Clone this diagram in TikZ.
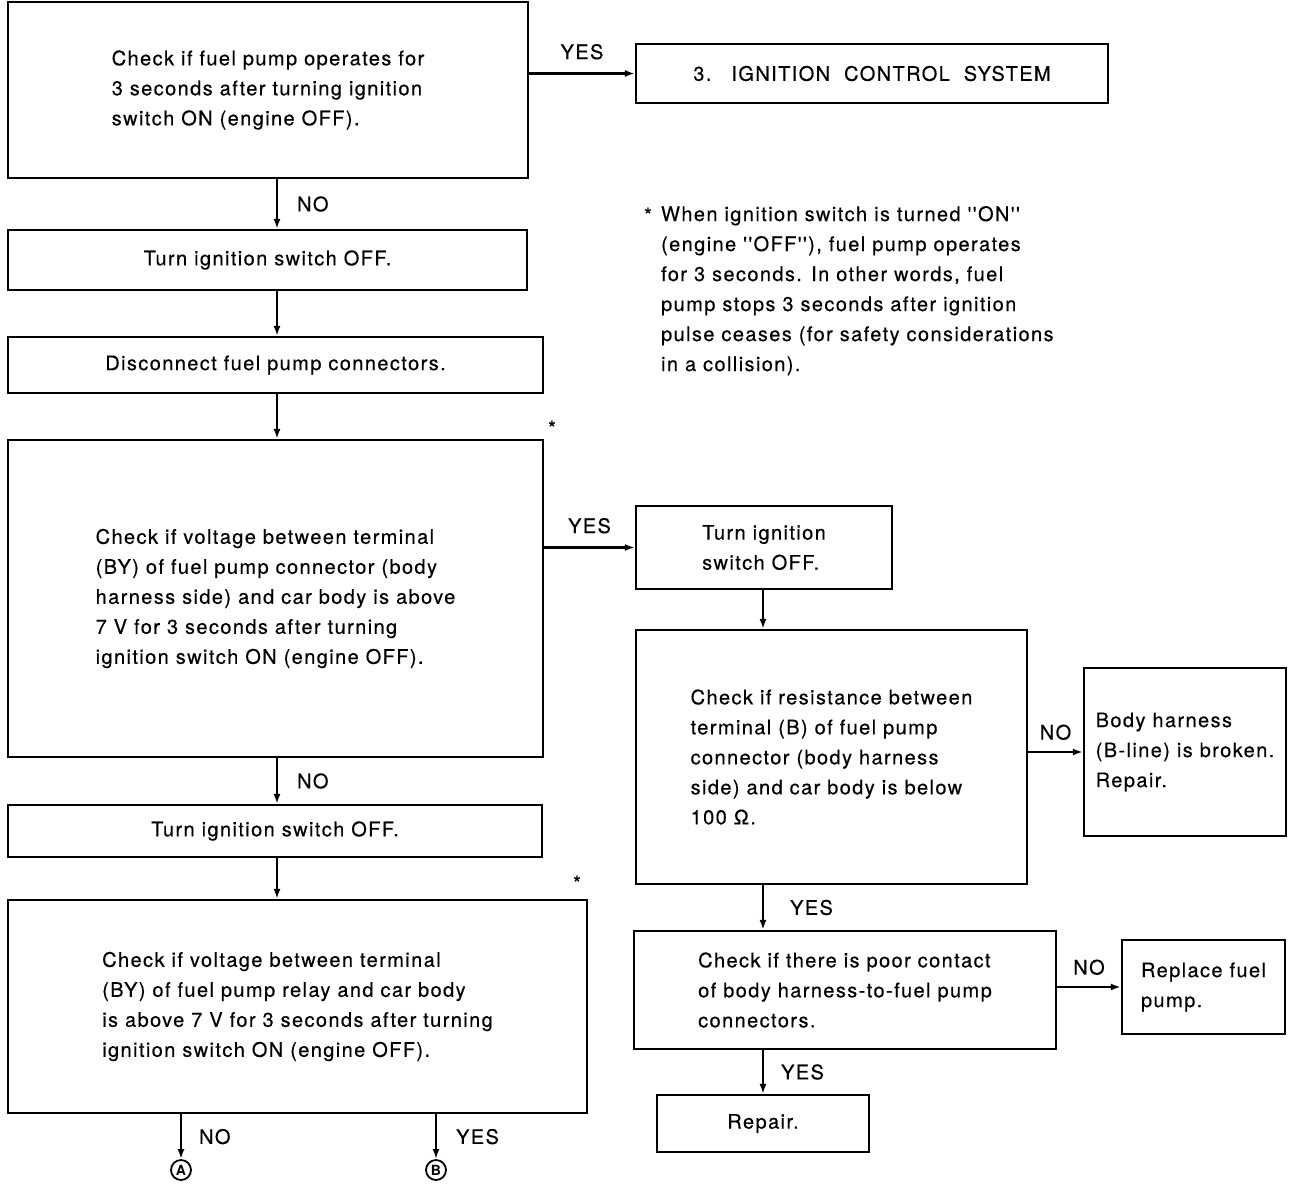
\documentclass[tikz,border=0pt]{standalone}
\usepackage{fontspec}
\setmainfont{TeX Gyre Heros}
\newfontfamily\chartfont[LetterSpace=7,FakeBold=0.4]{TeX Gyre Heros}
\usetikzlibrary{arrows.meta}
\tikzset{
	box/.style={draw, line width=2.2pt, align=left, inner sep=0pt, font=\chartfont\fontsize{20}{30}\selectfont},
	flow/.style={line width=2.2pt, -{Latex[length=10pt,width=7pt]}},
	lab/.style={inner sep=0pt, font=\chartfont\fontsize{20}{22}\selectfont},
	endpt/.style={draw, circle, line width=1.8pt, minimum size=20pt, inner sep=0pt, font=\fontsize{14}{14}\selectfont\bfseries}
}

\begin{document}
\begin{tikzpicture}[x=1pt,y=-1pt]
		\useasboundingbox (0,0) rectangle (1312,1184);
		%%%%% START %%%%%
		
		% columns of the flow
		\coordinate (colL) at (277,0);
		\coordinate (colR) at (763,0);
		\coordinate (colA) at (181,0);
		\coordinate (colB) at (436,0);
		
		% left column
		\node[box, minimum width=520pt, minimum height=176pt] (pumpchk) at (268,90) {Check if fuel pump operates for\\3 seconds after turning ignition\\switch ON (engine OFF).};
		\node[box, minimum width=472pt, minimum height=59pt] (ignsys) at (872,73.5) {3.\hspace{20pt}IGNITION\hspace{14pt}CONTROL\hspace{14pt}SYSTEM};
		\node[box, minimum width=519pt, minimum height=60pt] (offA) at (267.5,260) {Turn ignition switch OFF.};
		\node[box, minimum width=535pt, minimum height=56pt] (disc) at (275.5,365) {Disconnect fuel pump connectors.};
		\node[box, minimum width=535pt, minimum height=317pt] (voltchk) at (275.5,598.5) {Check if voltage between terminal\\(BY) of fuel pump connector (body\\harness side) and car body is above\\7 V for 3 seconds after turning\\ignition switch ON (engine OFF).};
		\node[box, minimum width=534pt, minimum height=52pt] (offB) at (275,831) {Turn ignition switch OFF.};
		\node[box, minimum width=579pt, minimum height=213pt] (relaychk) at (297.5,1006.5) {Check if voltage between terminal\\(BY) of fuel pump relay and car body\\is above 7 V for 3 seconds after turning\\ignition switch ON (engine OFF).};
		
		% right column
		\node[box, minimum width=256pt, minimum height=83pt] (offC) at (764,547.5) {Turn ignition\\switch OFF.};
		\node[box, minimum width=391pt, minimum height=254pt] (reschk) at (831.5,757) {Check if resistance between\\terminal (B) of fuel pump\\connector (body harness\\side) and car body is below\\100 Ω.};
		\node[box, minimum width=202pt, minimum height=168pt] (broken) at (1185,752) {Body harness\\(B-line) is broken.\\Repair.};
		\node[box, minimum width=422pt, minimum height=118pt] (contchk) at (845,990) {Check if there is poor contact\\of body harness-to-fuel pump\\connectors.};
		\node[box, minimum width=163pt, minimum height=94pt] (replace) at (1203.5,987) {Replace fuel\\pump.};
		\node[box, minimum width=212pt, minimum height=57pt] (repair) at (763,1123.5) {Repair.};
		
		% jump marks
		\node[endpt] (markA) at (181,1170) {A};
		\node[endpt] (markB) at (436,1170) {B};
		
		% note
		\node[box, draw=none, anchor=north west] (note) at (660,205) {When ignition switch is turned ''ON''\\(engine ''OFF''), fuel pump operates\\for 3 seconds. In other words, fuel\\pump stops 3 seconds after ignition\\pulse ceases (for safety considerations\\in a collision).};
		\node[lab] (astN) at (648,215) {*};
		\node[lab] (astV) at (552,428) {*};
		\node[lab] (astR) at (577,883) {*};
		
		% connectors
		\draw[flow] (pumpchk.east |- ignsys) -- node[lab, midway, above=13pt] (yesA) {YES} (ignsys.west);
		\draw[flow] (colL |- pumpchk.south) -- node[lab, midway, right=19pt] (noA) {NO} (colL |- offA.north);
		\draw[flow] (colL |- offA.south) -- (colL |- disc.north);
		\draw[flow] (colL |- disc.south) -- (colL |- voltchk.north);
		\draw[flow] (voltchk.east |- offC) -- node[lab, midway, above=13pt] (yesB) {YES} (offC.west);
		\draw[flow] (colL |- voltchk.south) -- node[lab, midway, right=19pt] (noB) {NO} (colL |- offB.north);
		\draw[flow] (colL |- offB.south) -- (colL |- relaychk.north);
		\draw[flow] (colA |- relaychk.south) -- node[lab, midway, right=17pt] (noC) {NO} (markA);
		\draw[flow] (colB |- relaychk.south) -- node[lab, midway, right=19pt] (yesC) {YES} (markB);
		
		\draw[flow] (colR |- offC.south) -- (colR |- reschk.north);
		\draw[flow] (reschk.east |- broken) -- node[lab, midway, above=11pt] (noD) {NO} (broken.west);
		\draw[flow] (colR |- reschk.south) -- node[lab, midway, right=26pt] (yesD) {YES} (colR |- contchk.north);
		\draw[flow] (contchk.east |- replace) -- node[lab, midway, above=11pt] (noE) {NO} (replace.west);
		\draw[flow] (colR |- contchk.south) -- node[lab, midway, right=17pt] (yesE) {YES} (repair.north);
		
		%%%%% END %%%%%
\end{tikzpicture}
\end{document}
